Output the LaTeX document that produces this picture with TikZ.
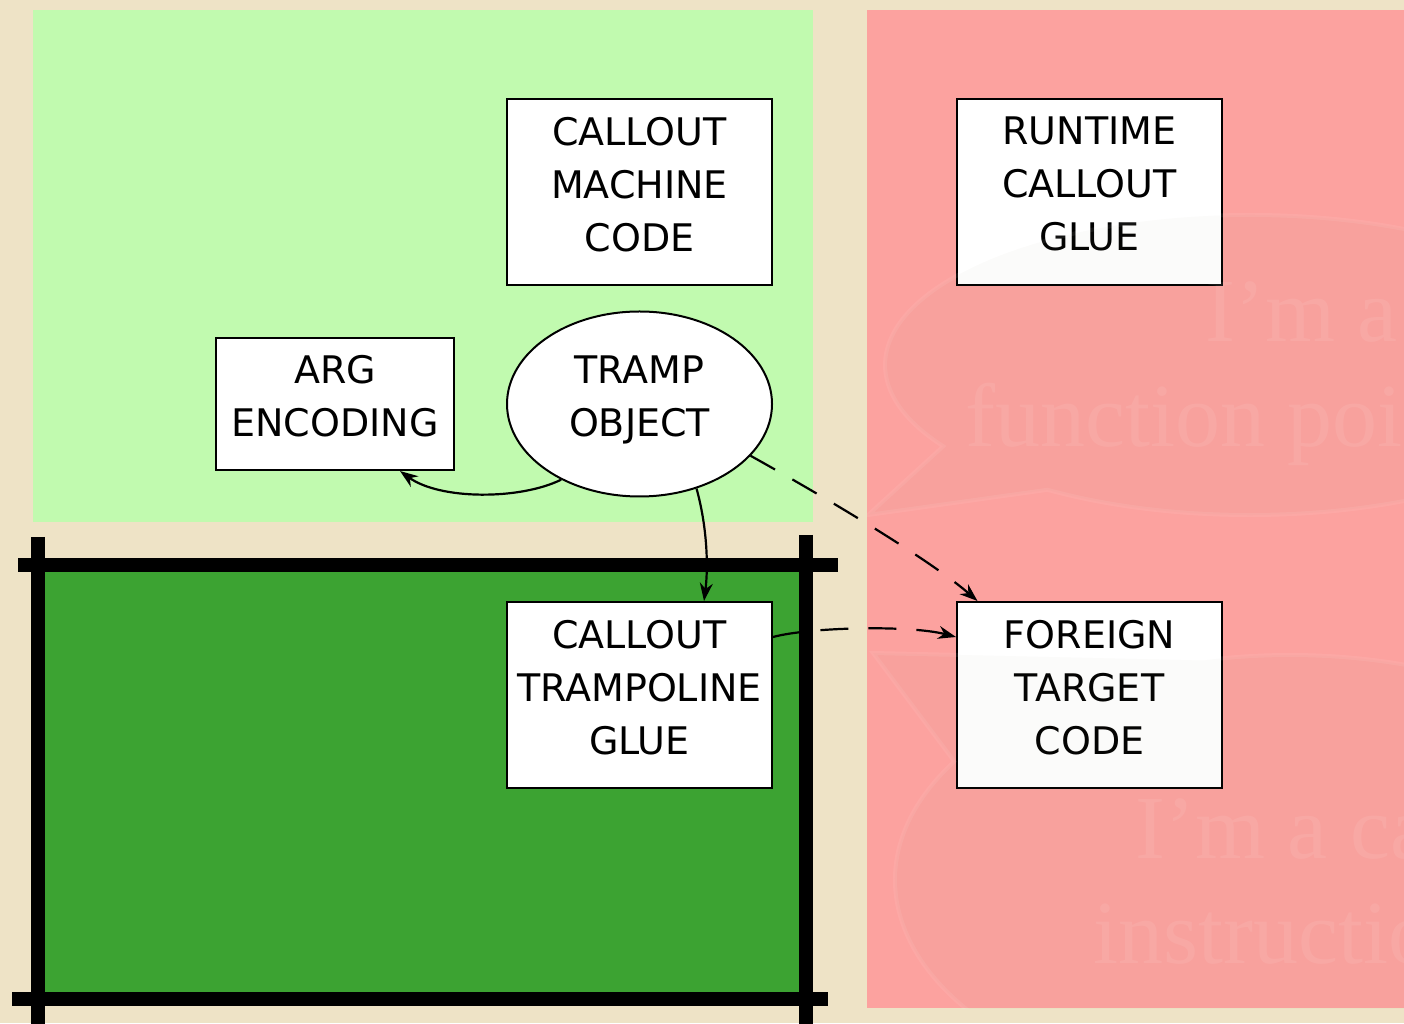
\documentclass[tikz,border=0pt]{standalone}
\usepackage{fontspec}
\setmainfont{DejaVu Sans}
\newfontfamily\bubblefont{Liberation Serif}
\usetikzlibrary{shapes.geometric,arrows.meta}
\definecolor{parchment}{RGB}{238,227,198}
\definecolor{lightgreen}{RGB}{193,250,175}
\definecolor{salmon}{RGB}{252,162,159}
\definecolor{darkgreen}{RGB}{60,163,50}
\definecolor{bubbletint}{RGB}{150,140,100}
\begin{document}
\begin{tikzpicture}[x=1pt,y=1pt,
  box/.style={draw=black, line width=2pt, fill=white,
    minimum width=265pt, minimum height=186pt, inner sep=0pt,
    align=center, font=\fontsize{38}{53}\selectfont,
    execute at end node={\rule[-16pt]{0pt}{0pt}}},
  oval/.style={box, ellipse, minimum height=185pt},
  arr/.style={-{Stealth[length=18pt,width=13pt]}, line width=2.2pt},
  dasharr/.style={arr, dash pattern=on 28pt off 20pt},
  bar/.style={line width=14pt, black},
  bubble/.style={fill=bubbletint, fill opacity=0.03,
    draw=white, draw opacity=0.07, line width=4pt},
  bubbletext/.style={text=white, text opacity=0.08, inner sep=0pt,
    anchor=base west, font=\bubblefont\fontsize{90}{105}\selectfont}]

% page and regions
\fill[parchment] (0,0) rectangle (1404,1023);
\useasboundingbox (0,0) rectangle (1404,1023);
\fill[lightgreen] (33,501) rectangle (813,1013);
\fill[salmon] (867,15) rectangle (1410,1013);
\fill[darkgreen] (38,24) rectangle (806,458);

% heavy frame round the dark region
\draw[bar] (18,458) -- (838,458);
\draw[bar] (12,24) -- (828,24);
\draw[bar] (38,486) -- (38,-10);
\draw[bar] (806,488) -- (806,-10);

% nodes
\node[box] (cmc) at (639.5,831) {CALLOUT\\MACHINE\\CODE};
\node[box] (rcg) at (1089.5,831) {RUNTIME\\CALLOUT\\GLUE};
\node[box, minimum width=238pt, minimum height=132pt] (arg) at (335,619) {ARG\\ENCODING};
\node[oval] (tramp) at (639.5,619) {TRAMP\\OBJECT};
\node[box] (tpg) at (639.5,328) {CALLOUT\\TRAMPOLINE\\GLUE};
\node[box] (ftc) at (1089.5,328) {FOREIGN\\TARGET\\CODE};

% connectors
\draw[arr] (tramp.224) .. controls (520,523) and (440,523) .. ([xshift=65pt]arg.south);
\draw[arr] (tramp.304) .. controls (708,493) and (708,453) .. ([xshift=64.5pt]tpg.north);
\draw[dasharr] (tramp.335) .. controls (830,523) and (930,463) .. ([xshift=-112pt]ftc.north);
\draw[dasharr] ([yshift=58pt]tpg.east) .. controls (810,396) and (910,398) .. ([yshift=58pt]ftc.west);

% speech bubbles over the foreign side
\begin{scope}
  \clip (867,15) rectangle (1410,1013);
  \filldraw[bubble] ([shift={(236.3:365 and 150)}]1250,658)
    arc[start angle=236.3, end angle=572.8, x radius=365, y radius=150]
    -- (868,508) -- cycle;
  \filldraw[bubble] ([shift={(148.2:395 and 225)}]1290,143)
    arc[start angle=148.2, end angle=462.7, x radius=395, y radius=225]
    -- (873,370) -- cycle;
  \node[bubbletext] (b1a) at (1205,681) {I’m a};
  \node[bubbletext] (b1b) at (965,576) {function pointer};
  \node[bubbletext] (b2a) at (1135,165) {I’m a call};
  \node[bubbletext] (b2b) at (1093,60) {instruction};
\end{scope}
\end{tikzpicture}
\end{document}
